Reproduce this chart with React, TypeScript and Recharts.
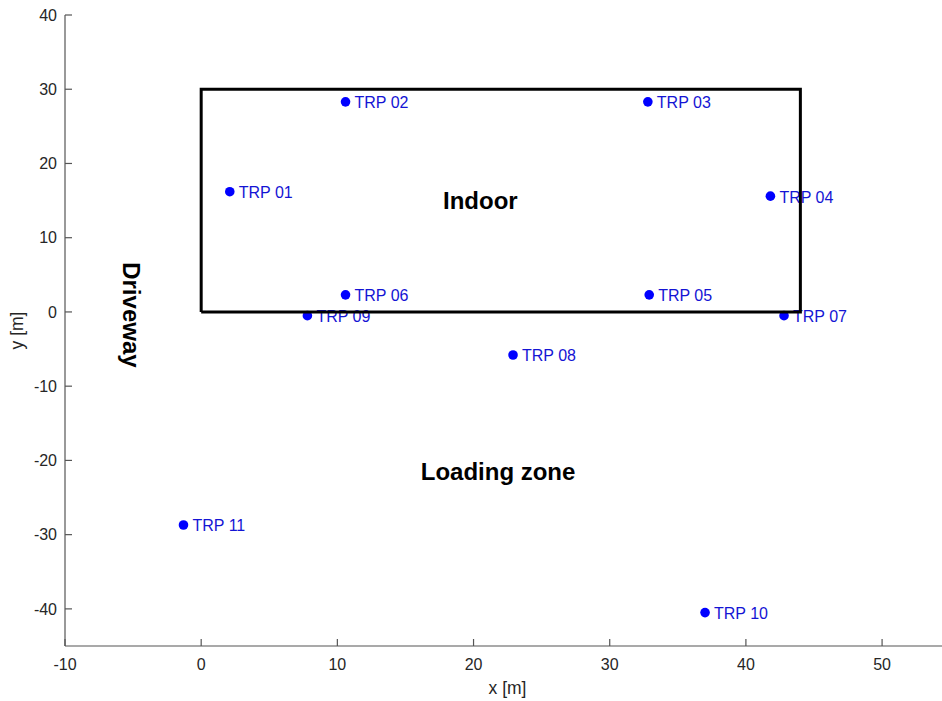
import React from 'react';
import { ScatterChart, Scatter, XAxis, YAxis } from 'recharts';

// Reference points (TRP) in site coordinates, metres
const trpNames = ['TRP 01', 'TRP 02', 'TRP 03', 'TRP 04', 'TRP 05', 'TRP 06', 'TRP 07', 'TRP 08', 'TRP 09', 'TRP 10', 'TRP 11'];
const trpX = [2.1, 10.6, 32.8, 41.8, 32.9, 10.6, 42.8, 22.9, 7.8, 37.0, -1.3];
const trpY = [16.2, 28.3, 28.3, 15.6, 2.3, 2.3, -0.5, -5.8, -0.5, -40.5, -28.7];

// Outline of the indoor hall
const hallX = [0, 0, 44, 44, 0];
const hallY = [0, 30, 30, 0, 0];

// Area names
const zoneNames = ['Indoor', 'Loading zone', 'Driveway'];
const zoneX = [20.5, 21.8, -5.1];
const zoneY = [15.0, -21.5, -0.4];
const zoneAngle = [0, 0, 90];

const xTicks = [-10, 0, 10, 20, 30, 40, 50];
const yTicks = [-40, -30, -20, -10, 0, 10, 20, 30, 40];

const trpData = trpNames.map((name, i) => ({ name, x: trpX[i], y: trpY[i] }));
const hallData = hallX.map((x, i) => ({ x, y: hallY[i] }));
const zoneData = zoneNames.map((name, i) => ({ name, x: zoneX[i], y: zoneY[i], angle: zoneAngle[i] }));

const AXIS_FONT = '"Liberation Sans", Arial, Helvetica, sans-serif';
const BLUE = '#0000ff';

const TrpMarker = (props: any) => {
  const { cx, cy, payload } = props;
  return (
    <g>
      <circle cx={cx} cy={cy} r={4.8} fill={BLUE} />
      <text
        x={cx + 9}
        y={cy + 1}
        dominantBaseline="central"
        fontFamily={AXIS_FONT}
        fontSize={16}
        fill="#1414d4"
      >
        {payload.name}
      </text>
    </g>
  );
};

const ZoneLabel = (props: any) => {
  const { cx, cy, payload } = props;
  return (
    <text
      x={cx}
      y={cy}
      textAnchor="middle"
      dominantBaseline="central"
      fontFamily={AXIS_FONT}
      fontWeight="bold"
      fontSize={24}
      fill="#000"
      transform={payload.angle ? `rotate(${payload.angle} ${cx} ${cy})` : undefined}
    >
      {payload.name}
    </text>
  );
};

const NoMarker = () => <g />;

const XTitle = (props: any) => {
  const { viewBox } = props;
  const cx = viewBox.x + viewBox.width / 2 + 4;
  return (
    <text x={cx} y={694} textAnchor="middle" fontFamily={AXIS_FONT} fontSize={17.5} fill="#262626">
      x [m]
    </text>
  );
};

const YTitle = (props: any) => {
  const { viewBox } = props;
  const cy = viewBox.y + viewBox.height / 2;
  const cx = 17;
  return (
    <text
      x={cx}
      y={cy}
      textAnchor="middle"
      dominantBaseline="central"
      fontFamily={AXIS_FONT}
      fontSize={17.5}
      fill="#262626"
      transform={`rotate(-90 ${cx} ${cy})`}
    >
      y [m]
    </text>
  );
};

const tickStyle = { fontFamily: AXIS_FONT, fontSize: 16, fill: '#262626' };

export default function App() {
  return (
    <div style={{ position: 'absolute', left: 0, top: 0, background: '#fff' }}>
      <ScatterChart width={942} height={701} margin={{ top: 15, right: 0, bottom: 0, left: 0 }}>
        <XAxis
          type="number"
          dataKey="x"
          domain={[-10, 54.4]}
          ticks={xTicks}
          allowDataOverflow
          height={55}
          tickSize={-7}
          tickMargin={20}
          axisLine={{ stroke: '#555', strokeWidth: 1.2 }}
          tickLine={{ stroke: '#555', strokeWidth: 1.2 }}
          tick={tickStyle}
          label={<XTitle />}
        />
        <YAxis
          type="number"
          dataKey="y"
          domain={[-45, 40]}
          ticks={yTicks}
          allowDataOverflow
          width={65}
          tickSize={-7}
          tickMargin={15}
          axisLine={{ stroke: '#555', strokeWidth: 1.2 }}
          tickLine={{ stroke: '#555', strokeWidth: 1.2 }}
          tick={tickStyle}
          label={<YTitle />}
        />
        <Scatter data={trpData} shape={<TrpMarker />} isAnimationActive={false} />
        <Scatter
          data={hallData}
          shape={<NoMarker />}
          line={{ stroke: '#000', strokeWidth: 3, strokeLinejoin: 'miter' }}
          lineType="joint"
          isAnimationActive={false}
        />
        <Scatter data={zoneData} shape={<ZoneLabel />} isAnimationActive={false} />
      </ScatterChart>
    </div>
  );
}
